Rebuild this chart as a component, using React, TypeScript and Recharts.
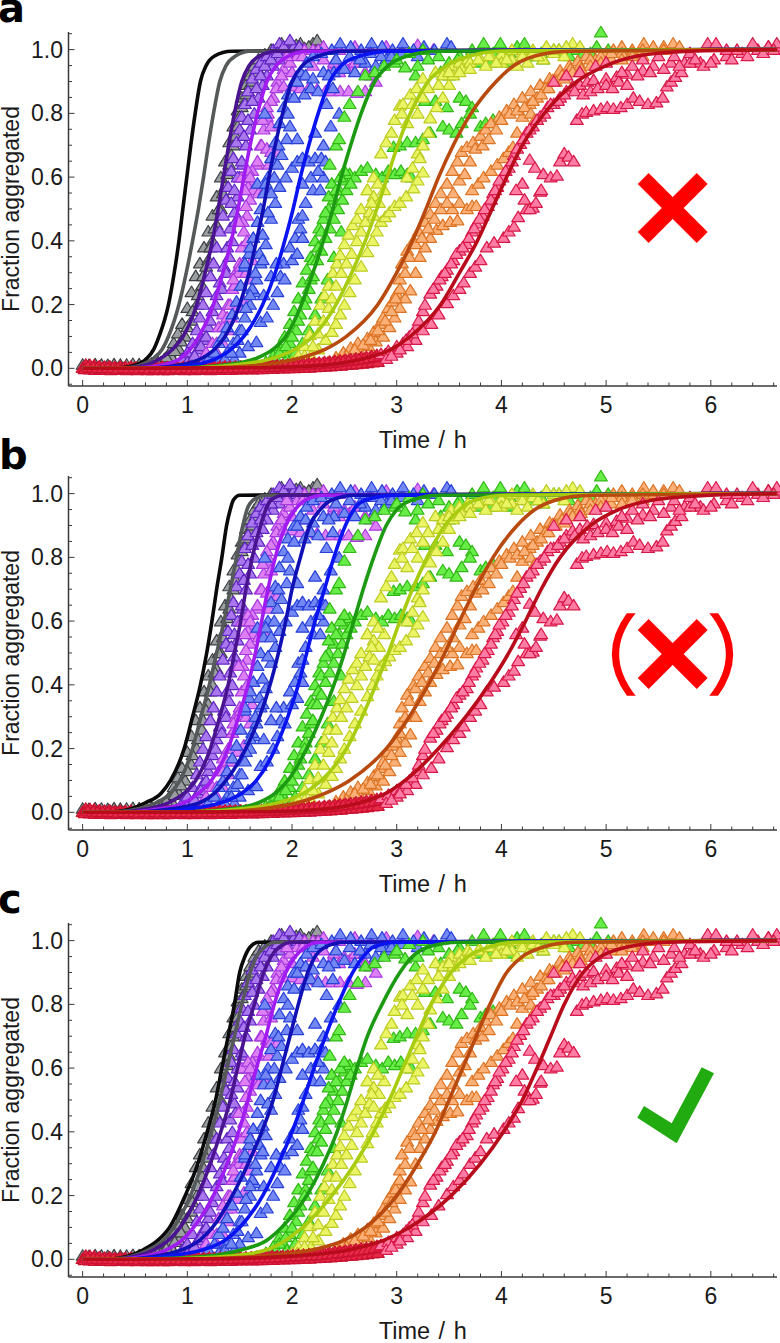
import { ComposedChart, Line, Scatter, XAxis, YAxis, Label } from "recharts";

type Pt = [number, number];

// measured runs, [time in h, fraction]
const grayA: Pt[] = [[0,.012],[.06,.011],[.12,.013],[.18,.012],[.24,.011],[.3,.013],[.36,.012],[.42,.012],[.48,.014],[.54,.013],[.6,.015],[.66,.016],[.72,.02],[.78,.03],[.83,.05],[.87,.08],[.91,.11],[.95,.14],[1,.19],[1.04,.24],[1.08,.29],[1.12,.33],[1.16,.38],[1.2,.43],[1.24,.48],[1.28,.54],[1.32,.6],[1.36,.65],[1.4,.71],[1.44,.76],[1.48,.81],[1.52,.85],[1.56,.89],[1.6,.92],[1.64,.95],[1.68,.97],[1.74,.985],[1.8,1],[1.88,1.01],[1.96,1],[2.04,1.015],[2.12,1.005],[2.2,1.02],[2.26,1.01]];
const grayB: Pt[] = [[.85,.035],[.92,.06],[.98,.1],[1.04,.15],[1.09,.2],[1.14,.26],[1.2,.34],[1.24,.4],[1.28,.45],[1.32,.5],[1.36,.57],[1.4,.64],[1.44,.7],[1.48,.76],[1.52,.82],[1.56,.86],[1.6,.89],[1.65,.93],[1.7,.95],[1.76,.97],[1.84,.99],[1.92,1],[2,1.01]];
const grayC: Pt[] = [[.75,.02],[.8,.035],[.88,.055],[.94,.085],[1,.13],[1.05,.18],[1.1,.23],[1.15,.29],[1.18,.32],[1.22,.38],[1.26,.44],[1.3,.5],[1.34,.55],[1.38,.61],[1.42,.67],[1.46,.73],[1.5,.79],[1.54,.83],[1.58,.87],[1.62,.9],[1.67,.94],[1.72,.96],[1.78,.98],[1.9,1.02],[2,1],[2.08,1.02],[2.16,1.01],[2.24,1.03]];
const purpleA: Pt[] = [[.95,.03],[1,.05],[1.05,.08],[1.09,.12],[1.12,.16],[1.15,.2],[1.18,.24],[1.22,.29],[1.25,.33],[1.28,.38],[1.31,.43],[1.34,.48],[1.37,.53],[1.39,.57],[1.42,.62],[1.44,.66],[1.47,.71],[1.5,.75],[1.52,.79],[1.55,.83],[1.58,.87],[1.62,.91],[1.66,.94],[1.7,.96],[1.76,.98],[1.82,1],[1.88,1.02],[1.95,1],[2.02,1.01],[2.1,1]];
const purpleB: Pt[] = [[1.05,.03],[1.1,.06],[1.15,.09],[1.2,.13],[1.24,.18],[1.28,.23],[1.31,.27],[1.35,.32],[1.38,.38],[1.41,.44],[1.45,.49],[1.48,.54],[1.5,.6],[1.53,.64],[1.56,.7],[1.6,.75],[1.64,.8],[1.68,.85],[1.72,.89],[1.76,.92],[1.82,.95],[1.88,.97],[1.95,.99],[2.05,1]];
const purpleC: Pt[] = [[1,.02],[1.07,.04],[1.13,.07],[1.18,.1],[1.22,.15],[1.27,.2],[1.33,.25],[1.37,.3],[1.4,.35],[1.43,.4],[1.46,.46],[1.42,.52],[1.45,.56],[1.48,.6],[1.52,.65],[1.54,.73],[1.58,.78],[1.62,.84],[1.66,.88],[1.7,.92],[1.74,.95],[1.8,.97],[1.86,.99],[1.92,1.01],[1.98,1.03],[2.07,1.01]];
const violetA: Pt[] = [[1.12,.02],[1.18,.05],[1.24,.08],[1.3,.13],[1.34,.17],[1.39,.2],[1.43,.25],[1.46,.3],[1.5,.33],[1.52,.38],[1.54,.43],[1.57,.48],[1.6,.53],[1.62,.58],[1.66,.64],[1.7,.7],[1.73,.75],[1.77,.8],[1.82,.85],[1.86,.9],[1.92,.94],[1.98,.96],[2.05,.98],[2.12,1],[2.2,1],[2.3,1.01],[2.45,1],[2.6,1.01],[2.75,1],[2.9,1.01],[3.05,1],[3.2,1.015],[3.35,1]];
const violetB: Pt[] = [[1.2,.03],[1.28,.08],[1.34,.13],[1.38,.16],[1.41,.2],[1.45,.26],[1.49,.3],[1.53,.33],[1.57,.4],[1.53,.46],[1.56,.51],[1.58,.57],[1.63,.56],[1.68,.55],[1.74,.56],[1.76,.79],[1.8,.84],[1.85,.88],[1.92,.885],[2,.885],[2.08,.88],[2.16,.88],[2.24,.875],[2.32,.87],[2.38,.87],[2.46,.87],[2.54,.87],[2.62,.865],[2.7,.87]];
const violetC: Pt[] = [[1.62,.62],[1.67,.65],[1.71,.7],[1.76,.69],[1.8,.68],[1.86,.68],[1.78,.64],[2.36,.93],[2.45,.93],[2.55,.94],[2.65,.96],[2.75,.92]];
const violetD: Pt[] = [[1.28,.05],[1.34,.08],[1.39,.12],[1.42,.16],[1.48,.19],[1.54,.21],[1.44,.28],[1.51,.32],[1.56,.3],[1.6,.28],[1.62,.34],[1.49,.46],[1.55,.56],[1.52,.6],[1.58,.62],[1.6,.6],[1.72,.78],[1.76,.82],[1.8,.76],[1.9,.92],[2,.93],[2.1,.92],[2.2,.95],[2.3,.97],[2.4,.96],[2.5,.95],[2.6,.96],[2.7,.93],[2.8,.9],[1.95,.98],[2.1,.98],[2.25,1]];
const blueA: Pt[] = [[1.2,.03],[1.26,.05],[1.3,.08],[1.34,.1],[1.38,.13],[1.43,.17],[1.47,.21],[1.51,.26],[1.55,.32],[1.59,.36],[1.63,.41],[1.67,.46],[1.7,.5],[1.73,.55],[1.77,.6],[1.8,.66],[1.84,.71],[1.88,.77],[1.92,.82],[1.96,.86],[2.02,.9],[2.08,.93],[2.14,.96],[2.2,.98],[2.28,.99],[2.38,1],[2.46,1.02],[2.56,1.01],[2.66,1],[2.76,1.02],[2.86,1.01],[2.96,1],[3.06,1.02],[3.16,1],[3.26,1.01],[3.36,1],[3.48,1.02],[3.52,1.01]];
const blueB: Pt[] = [[1.3,.02],[1.38,.05],[1.44,.08],[1.5,.12],[1.55,.16],[1.6,.2],[1.64,.24],[1.66,.28],[1.7,.33],[1.75,.39],[1.8,.47],[1.84,.52],[1.88,.57],[1.94,.6],[2,.63],[2.05,.65],[2.1,.66],[2.16,.65],[2.22,.66],[2.28,.66],[2.32,.65],[2.2,.56],[2.27,.56],[2.3,.6]];
const blueC: Pt[] = [[1.45,.03],[1.5,.05],[1.58,.07],[1.66,.083],[1.7,.146],[1.76,.16],[1.82,.2],[1.86,.24],[1.89,.29],[1.92,.33],[1.98,.38],[2.03,.41],[2.08,.44],[2.06,.47],[2.1,.48],[1.74,.8],[1.87,.7],[1.96,.8],[2.02,.85],[2.22,.74],[2.3,.7],[2.37,.76],[2.39,.88],[2.45,.8],[2.33,.83]];
const blueD: Pt[] = [[1.55,.33],[1.6,.38],[1.67,.58],[1.75,.58],[1.62,.25],[1.73,.23],[2.05,.9],[2.13,.92],[2.2,.91],[2.3,.93],[2.4,.93],[2.5,.94],[2.6,.93],[2.7,.96],[2.8,.95],[2.9,.97]];
const blueE: Pt[] = [[1.36,.03],[1.42,.05],[1.48,.09],[1.52,.12],[1.56,.19],[1.6,.23],[1.65,.3],[1.69,.36],[1.72,.42],[1.77,.49],[1.8,.55],[1.83,.6],[1.86,.64],[1.9,.67],[1.95,.72],[1.98,.76],[1.72,.34],[1.8,.29],[1.85,.33],[1.93,.28],[2,.34],[2.05,.36],[2.1,.41],[2.13,.52],[2.18,.6],[2.25,.62],[2.1,.58],[2.05,.72],[2.12,.86],[2.18,.88],[2.25,.87],[2.35,.92],[2.42,.97],[2.55,.98],[2.65,.97],[2.75,.99],[2.85,.98],[2.95,.98],[3.05,.99],[3.2,.98]];
const greenA: Pt[] = [[1.75,.02],[1.82,.04],[1.88,.07],[1.93,.1],[1.98,.14],[2.02,.18],[2.06,.22],[2.1,.27],[2.14,.31],[2.18,.35],[2.22,.4],[2.26,.44],[2.3,.47],[2.35,.5],[2.4,.53],[2.45,.56],[2.5,.59],[2.55,.61],[2.6,.6],[2.66,.62],[2.72,.63],[2.8,.61],[2.86,.6],[2.92,.62],[2.98,.61],[3.04,.62],[3.1,.61],[3.14,.6]];
const greenB: Pt[] = [[1.85,.03],[1.92,.05],[1.98,.08],[2.04,.12],[2.08,.17],[2.13,.22],[2.18,.28],[2.2,.34],[2.25,.38],[2.28,.43],[2.32,.49],[2.35,.54],[2.38,.58],[2.36,.64],[2.42,.7],[2.45,.72],[2.5,.79],[2.55,.83],[2.63,.87],[2.7,.92],[2.79,.93],[2.88,.95],[2.98,.96],[3.08,.945],[3.18,.92],[3.27,.84],[3.37,.84],[3.48,.82],[3.6,.85],[3.66,.84],[3.72,.82]];
const greenC: Pt[] = [[1.95,.03],[2.03,.05],[2.1,.08],[2.16,.12],[2.22,.17],[2.28,.22],[2.34,.28],[2.4,.35],[2.47,.43],[2.97,.695],[3.03,.7],[3.1,.71],[3.18,.71],[3.25,.72],[3.32,.74],[3.44,.76],[3.5,.75],[3.57,.74],[3.62,.77],[3.7,.8],[3.8,.76],[3.85,.77],[3.92,.78]];
const greenD: Pt[] = [[3,.97],[3.12,.99],[3.25,1],[3.4,.98],[3.5,.96],[3.6,.98],[3.72,1],[3.83,1.02],[3.92,.99],[3.99,1.02],[4.08,.99],[4.15,1.01],[4.22,1.02],[4.32,.98],[4.4,.97],[4.5,1],[4.6,.99],[4.7,1],[4.85,.99],[4.91,1.01],[4.95,1.055],[5.02,1]];
const greenE: Pt[] = [[1.8,.02],[1.88,.05],[1.94,.07],[2,.1],[2.06,.15],[2.12,.2],[2.16,.25],[2.2,.29],[2.24,.34],[2.28,.37],[2.32,.41],[2.36,.44],[2.4,.47],[2.44,.5],[2.48,.53],[2.52,.56],[2.56,.58],[2.42,.56],[2.46,.6],[2.5,.62],[3.2,.95],[3.3,.97],[3.42,.93],[3.5,.92],[3.58,.97],[3.7,.96],[3.78,.96],[3.9,.96],[4,.97],[4.1,.96],[4.25,.98],[4.38,.99],[4.55,1],[4.65,.98],[4.78,.99],[5,.98]];
const yellowA: Pt[] = [[2,.02],[2.06,.04],[2.12,.07],[2.17,.105],[2.22,.15],[2.27,.2],[2.31,.23],[2.35,.26],[2.39,.3],[2.43,.33],[2.46,.356],[2.5,.39],[2.54,.42],[2.58,.45],[2.62,.47],[2.66,.5],[2.72,.56],[2.78,.6],[2.85,.675],[2.9,.71],[2.95,.74],[2.98,.78],[3.03,.825],[3.06,.83],[3.13,.86],[3.19,.88],[3.25,.91],[3.37,.93],[3.44,.92],[3.52,.95],[3.6,.96],[3.68,.97],[3.8,.97],[3.9,.98],[4,.985],[4.1,1],[4.2,.99],[4.3,1],[4.43,1.01],[4.55,1],[4.68,1.02],[4.75,1.01]];
const yellowB: Pt[] = [[2.1,.02],[2.18,.04],[2.25,.06],[2.32,.09],[2.38,.115],[2.42,.14],[2.46,.17],[2.5,.2],[2.55,.24],[2.6,.28],[2.66,.32],[2.72,.365],[2.77,.4],[2.81,.43],[2.85,.46],[2.89,.475],[2.93,.49],[2.98,.51],[3.03,.52],[3.09,.54],[3.16,.565],[3.2,.59],[3.25,.615],[3.2,.675],[3.25,.7],[3.3,.74],[3.32,.785],[3.38,.82],[3.44,.85],[3.5,.89],[3.54,.92],[3.62,.94],[3.7,.96],[3.78,.97],[3.88,.98],[4,.96],[4.1,.97],[4.2,.98],[4.3,.99],[4.4,.97],[4.5,.99],[4.6,.98]];
const yellowC: Pt[] = [[2.72,.56],[2.78,.54],[2.83,.52],[2.88,.56],[2.82,.58],[2.76,.52]];
const yellowD: Pt[] = [[2.05,.02],[2.12,.04],[2.2,.07],[2.25,.11],[2.3,.15],[2.35,.19],[2.38,.22],[2.42,.26],[2.47,.3],[2.52,.33],[2.57,.36],[2.62,.4],[2.66,.43],[2.7,.46],[2.74,.49],[2.78,.48],[3.05,.8],[3.1,.77],[3.15,.83],[3.2,.8],[3.25,.85],[3.3,.88],[3.4,.89],[3.5,.93],[3.6,.93],[3.7,.94],[3.85,.95],[3.95,.96],[4.05,.97],[4.15,.95],[4.25,.96],[4.35,.98],[4.5,1],[4.62,1.01],[3.1,.6],[3.15,.63],[3.22,.66]];
const orangeA: Pt[] = [[2.35,.02],[2.42,.035],[2.49,.05],[2.56,.065],[2.63,.08],[2.72,.095],[2.78,.115],[2.84,.14],[2.87,.16],[2.92,.19],[2.96,.21],[3,.235],[3.03,.28],[3.05,.33],[3.1,.37],[3.16,.4],[3.21,.43],[3.27,.46],[3.32,.485],[3.37,.52],[3.42,.55],[3.48,.58],[3.53,.62],[3.58,.65],[3.62,.68],[3.67,.695],[3.73,.71],[3.8,.73],[3.85,.75],[3.9,.77],[3.98,.79],[4.05,.81],[4.12,.83],[4.2,.85],[4.28,.87],[4.37,.89],[4.46,.91],[4.56,.935],[4.65,.95],[4.73,.965],[4.81,.98],[4.9,.97],[5,.99],[5.07,1],[5.15,1.01],[5.25,1],[5.36,1.02],[5.45,1],[5.55,1.01],[5.64,1.02],[5.7,1.01]];
const orangeB: Pt[] = [[2.55,.02],[2.65,.05],[2.73,.07],[2.8,.085],[2.87,.1],[2.93,.13],[2.98,.16],[3.03,.19],[3.08,.22],[3.13,.245],[3.18,.3],[3.22,.35],[3.27,.38],[3.32,.41],[3.38,.435],[3.44,.45],[3.51,.46],[3.58,.465],[3.53,.5],[3.6,.52],[3.67,.5],[3.72,.51],[3.76,.51],[3.72,.56],[3.78,.58],[3.83,.6],[3.9,.62],[3.96,.64],[4.02,.66],[4.07,.68],[4.11,.695],[4.15,.74],[4.2,.79],[4.27,.83],[4.34,.85],[4.42,.88],[4.49,.905],[4.58,.92],[4.66,.94],[4.75,.95],[4.85,.97],[4.95,.98],[5.05,.97],[5.15,.99],[5.25,.99],[5.35,1],[5.45,1.01],[5.55,1]];
const orangeC: Pt[] = [[2.45,.025],[2.52,.04],[2.6,.06],[2.68,.075],[2.75,.09],[2.82,.12],[2.89,.15],[2.95,.18],[2.99,.22],[3.03,.25],[3.08,.3],[3.12,.35],[3.18,.39],[3.24,.41],[3.3,.44],[3.36,.47],[3.42,.5],[3.48,.52],[3.54,.55],[3.6,.59],[3.65,.61],[3.7,.65],[3.75,.69],[3.82,.7],[3.88,.72],[3.95,.75],[4,.78],[4.08,.8],[4.15,.81],[4.22,.82],[4.28,.8],[4.32,.78],[4.3,.84],[4.38,.86],[4.45,.88],[4.52,.9],[4.6,.91],[4.68,.93],[4.76,.94],[4.85,.95],[4.95,.96],[5.05,.99],[5.15,.97],[5.25,.98],[5.35,.98]];
const redBaseA: Pt[] = [[0,.002],[.03,.012],[.07,.011],[.11,.009],[.16,.007],[.21,.005],[.26,.006],[.31,.004],[.36,.005],[.41,.004],[.46,.005],[.51,.003],[.56,.005],[.61,.004],[.66,.004],[.71,.003],[.76,.005],[.81,.004],[.86,.004],[.91,.003],[.96,.004],[1.01,.005],[1.06,.003],[1.11,.004],[1.16,.004],[1.21,.005],[1.26,.004],[1.31,.005],[1.36,.006],[1.41,.005],[1.46,.006],[1.51,.006],[1.56,.007],[1.61,.007],[1.66,.008],[1.71,.008],[1.76,.009],[1.81,.01],[1.86,.01],[1.91,.011],[1.96,.012],[2.01,.013],[2.06,.014],[2.11,.015],[2.16,.016],[2.21,.017],[2.26,.018],[2.31,.02],[2.36,.021],[2.41,.023],[2.46,.025],[2.51,.027],[2.56,.029],[2.61,.031],[2.66,.034],[2.71,.036],[2.76,.039],[2.81,.042]];
const redBaseB: Pt[] = [[.02,-.002],[.07,-.003],[.12,-.004],[.17,-.003],[.22,-.004],[.27,-.005],[.32,-.004],[.37,-.004],[.42,-.005],[.47,-.004],[.52,-.005],[.57,-.004],[.62,-.005],[.67,-.005],[.72,-.004],[.77,-.005],[.82,-.005],[.87,-.004],[.92,-.004],[.97,-.005],[1.02,-.004],[1.07,-.005],[1.12,-.004],[1.17,-.004],[1.22,-.005],[1.27,-.004],[1.32,-.004],[1.37,-.003],[1.42,-.004],[1.47,-.003],[1.52,-.003],[1.57,-.002],[1.62,-.003],[1.67,-.002],[1.72,-.002],[1.77,-.001],[1.82,-.001],[1.87,0],[1.92,0],[1.97,.001],[2.02,.001],[2.07,.002],[2.12,.003],[2.17,.003],[2.22,.004],[2.27,.005],[2.32,.006],[2.37,.007],[2.42,.008],[2.47,.009],[2.52,.011],[2.57,.012],[2.62,.014],[2.67,.015],[2.72,.017],[2.77,.019],[2.82,.021]];
const redBaseC: Pt[] = [[.05,.004],[.1,.003],[.14,.002],[.19,.001],[.24,.002],[.29,.001],[.34,0],[.39,.001],[.44,0],[.49,.001],[.54,0],[.59,.001],[.64,0],[.69,.001],[.74,0],[.79,.001],[.84,0],[.89,.001],[.94,0],[.99,.001],[1.04,0],[1.09,.001],[1.14,0],[1.19,.001],[1.24,.001],[1.29,.001],[1.34,.002],[1.39,.002],[1.44,.002],[1.49,.003],[1.54,.003],[1.59,.003],[1.64,.004],[1.69,.005],[1.74,.005],[1.79,.006],[1.84,.006],[1.89,.007],[1.94,.008],[1.99,.009],[2.04,.01],[2.09,.011],[2.14,.012],[2.19,.013],[2.24,.014],[2.29,.015],[2.34,.017],[2.39,.018],[2.44,.02],[2.49,.022],[2.54,.024],[2.59,.026],[2.64,.028],[2.69,.03],[2.74,.033],[2.79,.036],[2.84,.04],[2.89,.044]];
const pinkA: Pt[] = [[2.85,.045],[2.92,.055],[3,.07],[3.06,.08],[3.12,.1],[3.19,.13],[3.25,.18],[3.32,.235],[3.38,.26],[3.43,.29],[3.48,.31],[3.54,.34],[3.6,.37],[3.67,.39],[3.72,.43],[3.76,.455],[3.82,.48],[3.87,.51],[3.92,.55],[3.96,.57],[4.01,.6],[4.07,.63],[4.12,.67],[4.18,.705],[4.24,.74],[4.3,.76],[4.37,.79],[4.44,.82],[4.5,.83],[4.56,.85],[4.62,.87],[4.68,.885],[4.75,.89],[4.82,.9],[4.88,.905],[5,.91],[5.1,.915],[5.2,.925],[5.35,.935],[5.45,.95],[5.62,.96],[5.75,.96],[5.9,.96],[6.03,.97],[6.15,.98],[6.3,.99],[6.45,1],[6.55,1.01],[6.62,1.01]];
const pinkB: Pt[] = [[2.9,.03],[3,.05],[3.1,.07],[3.18,.09],[3.25,.12],[3.33,.14],[3.4,.17],[3.48,.205],[3.54,.23],[3.6,.25],[3.64,.27],[3.7,.3],[3.75,.32],[3.8,.34],[3.86,.38],[3.93,.395],[4.02,.41],[4.07,.43],[4.12,.445],[4.16,.475],[4.24,.5],[4.3,.505],[4.37,.555],[4.4,.61],[4.47,.6],[4.53,.605],[4.56,.65],[4.6,.675],[4.64,.665],[4.69,.65]];
const pinkC: Pt[] = [[4.72,.78],[4.77,.8],[4.81,.805],[4.88,.81],[4.95,.815],[5.01,.82],[5.07,.815],[5.14,.82],[5.2,.83],[5.26,.85],[5.32,.84],[5.4,.83],[5.48,.835],[5.54,.85],[5.58,.885],[5.62,.9],[5.66,.915],[5.72,.93],[5.8,.96],[5.93,.95]];
const pinkD: Pt[] = [[4.2,.58],[4.14,.56],[4.22,.53],[4.27,.5],[4.33,.52],[4.27,.655],[4.32,.63],[4.38,.56],[4.5,.9],[4.62,.92],[4.75,.93],[4.9,.95],[5,.96],[5.15,.93],[5.25,.95],[5.35,.97],[5.5,.98],[5.65,.98],[5.8,.99],[5.97,1.02],[6.05,1.02],[6.15,1],[6.25,1],[6.4,1.02],[6.55,1.01],[6.63,1.02]];
const pinkE: Pt[] = [[2.95,.04],[3.03,.06],[3.09,.09],[3.15,.11],[3.21,.15],[3.27,.2],[3.35,.25],[3.41,.28],[3.46,.3],[3.52,.33],[3.57,.36],[3.63,.38],[3.69,.41],[3.74,.44],[3.79,.47],[3.84,.5],[3.9,.53],[3.94,.56],[3.98,.59],[4.04,.62],[4.1,.65],[4.15,.69],[4.21,.72],[4.27,.75],[4.34,.78],[4.41,.8],[4.47,.83],[4.54,.84],[4.6,.86],[4.7,.87],[4.78,.86],[4.85,.87],[4.92,.88],[5,.89],[5.06,.88],[5.12,.9],[5.2,.89],[5.3,.92],[5.42,.93],[5.55,.94],[5.7,.95],[5.85,.97],[6,.96],[6.2,.97],[6.35,.98],[6.5,.99],[6.6,1]];

// fitted curves: the time each curve reaches these fractions
const fitLevels = [.002,.01,.03,.06,.1,.2,.3,.4,.5,.6,.7,.8,.9,.95,.98,.995];

const aFits = [
  [.35,.5,.61,.68,.73,.82,.875,.92,.957,.995,1.033,1.075,1.125,1.18,1.26,1.42],
  [.42,.55,.67,.76,.82,.92,.99,1.05,1.106,1.155,1.2,1.25,1.31,1.37,1.46,1.6],
  [.45,.6,.74,.86,.96,1.09,1.17,1.24,1.295,1.345,1.395,1.45,1.52,1.59,1.69,1.85],
  [.55,.76,.93,1.03,1.11,1.25,1.34,1.42,1.485,1.54,1.6,1.67,1.76,1.85,1.97,2.15],
  [.7,.92,1.13,1.26,1.36,1.5,1.59,1.66,1.725,1.78,1.84,1.91,2,2.1,2.25,2.5],
  [.8,1.05,1.27,1.42,1.54,1.72,1.84,1.93,2.01,2.08,2.16,2.25,2.36,2.47,2.65,2.95],
  [1,1.35,1.65,1.82,1.94,2.09,2.2,2.3,2.39,2.47,2.56,2.66,2.79,2.92,3.1,3.4],
  [1.1,1.45,1.8,2.03,2.2,2.42,2.57,2.7,2.81,2.91,3.01,3.13,3.3,3.48,3.7,4],
  [1.2,1.7,2.05,2.32,2.52,2.82,3,3.15,3.28,3.4,3.54,3.71,3.95,4.12,4.32,4.65],
  [1.7,2.3,2.68,2.95,3.13,3.42,3.6,3.77,3.91,4.05,4.2,4.41,4.72,5,5.3,5.8],
];
const bFits = [
  [.3,.45,.6,.75,.84,.97,1.05,1.125,1.185,1.235,1.28,1.33,1.375,1.41,1.44,1.5],
  [.35,.52,.7,.84,.93,1.05,1.13,1.21,1.28,1.35,1.41,1.47,1.53,1.57,1.63,1.75],
  [.4,.6,.82,.97,1.08,1.22,1.31,1.39,1.45,1.51,1.56,1.62,1.7,1.75,1.8,1.92],
  [.5,.72,.97,1.11,1.23,1.39,1.49,1.58,1.65,1.71,1.77,1.84,1.94,2.03,2.13,2.3],
  [.6,.83,1.12,1.26,1.37,1.56,1.69,1.79,1.87,1.94,2,2.08,2.17,2.27,2.38,2.6],
  [.75,.98,1.32,1.52,1.66,1.84,1.96,2.06,2.14,2.22,2.31,2.4,2.51,2.59,2.7,3],
  [1.05,1.4,1.68,1.84,1.96,2.14,2.28,2.4,2.5,2.59,2.68,2.78,2.9,3,3.15,3.4],
  [1.1,1.5,1.87,2.11,2.28,2.52,2.67,2.8,2.92,3.03,3.15,3.29,3.46,3.6,3.75,4.05],
  [1.3,1.7,2.05,2.32,2.55,2.9,3.12,3.3,3.46,3.6,3.75,3.92,4.15,4.32,4.52,4.85],
  [1.8,2.3,2.65,2.9,3.08,3.4,3.66,3.88,4.07,4.23,4.38,4.56,4.85,5.12,5.45,6],
];
const cFits = [
  [.3,.43,.58,.72,.83,.98,1.1,1.19,1.27,1.33,1.39,1.45,1.5,1.55,1.6,1.68],
  [.32,.47,.63,.77,.87,1.03,1.14,1.23,1.31,1.38,1.45,1.52,1.6,1.66,1.74,1.85],
  [.35,.5,.68,.82,.93,1.1,1.22,1.32,1.41,1.48,1.55,1.64,1.73,1.8,1.88,2],
  [.4,.6,.8,.95,1.06,1.25,1.38,1.49,1.58,1.66,1.75,1.83,1.94,2.03,2.13,2.25],
  [.5,.7,.95,1.12,1.24,1.43,1.58,1.71,1.82,1.9,1.98,2.06,2.15,2.22,2.32,2.5],
  [.55,.8,1.15,1.36,1.5,1.72,1.87,2,2.11,2.21,2.32,2.44,2.58,2.68,2.78,3],
  [.7,1.2,1.52,1.76,1.9,2.14,2.3,2.43,2.53,2.62,2.72,2.86,3.03,3.15,3.3,3.6],
  [.9,1.4,1.76,1.94,2.1,2.38,2.6,2.78,2.93,3.06,3.19,3.33,3.52,3.68,3.88,4.15],
  [1.1,1.7,2.2,2.5,2.7,3,3.2,3.37,3.5,3.63,3.76,3.89,4.05,4.2,4.4,4.7],
  [1.3,2,2.55,2.88,3.12,3.52,3.8,4.02,4.2,4.34,4.47,4.6,4.78,4.95,5.2,5.6],
];

const xTicks = [0,.2,.4,.6,.8,1,1.2,1.4,1.6,1.8,2,2.2,2.4,2.6,2.8,3,3.2,3.4,3.6,3.8,4,4.2,4.4,4.6,4.8,5,5.2,5.4,5.6,5.8,6,6.2,6.4,6.6];
const yTicks = [-.05,0,.05,.1,.15,.2,.25,.3,.35,.4,.45,.5,.55,.6,.65,.7,.75,.8,.85,.9,.95,1,1.05];
const yLabels = [0,.2,.4,.6,.8,1];

const fitColors = ["#0a0a0a","#55595a","#4a1490","#a01cf0","#1010b4","#0a14f0","#1c9a12","#a8cc10","#b84a10","#b80c1c"];

const runStyles = [
  { runs: [grayA, grayB, grayC], fill: "#9a9ea0", stroke: "#3c4044" },
  { runs: [purpleA, purpleB, purpleC], fill: "#a878ec", stroke: "#6224c4" },
  { runs: [violetA, violetB, violetC, violetD], fill: "#dc80f4", stroke: "#a838e0" },
  { runs: [blueA, blueB, blueC, blueD, blueE], fill: "#7488f4", stroke: "#2840d8" },
  { runs: [greenA, greenB, greenC, greenD, greenE], fill: "#68ec48", stroke: "#30b814" },
  { runs: [yellowA, yellowB, yellowC, yellowD], fill: "#eaf464", stroke: "#bccc20" },
  { runs: [orangeA, orangeB, orangeC], fill: "#fbb078", stroke: "#dc7424" },
  { runs: [redBaseA, redBaseB, redBaseC], fill: "#e62a48", stroke: "#cc1030" },
  { runs: [pinkA, pinkB, pinkC, pinkD, pinkE], fill: "#ff7ca4", stroke: "#d81848" },
];

const font = "'Liberation Sans', Arial, sans-serif";
const ink = "#3a3a3a";
const axisLine = { stroke: ink, strokeWidth: 1.5 };

function toRows(run: Pt[]) {
  return run.map(([t, y]) => ({ t, y }));
}

function fitRows(times: number[]) {
  return [{ t: 0, y: 0 }, ...times.map((t, i) => ({ t, y: fitLevels[i] })), { t: 6.63, y: 1 }];
}

function triangle(fill: string, stroke: string) {
  return (p: any) => (
    <path
      d={`M${p.cx - 6.4} ${p.cy + 4.7}L${p.cx} ${p.cy - 5.8}L${p.cx + 6.4} ${p.cy + 4.7}Z`}
      fill={fill}
      stroke={stroke}
      strokeWidth={1.2}
      strokeLinejoin="round"
    />
  );
}

function xTick(side: "bottom" | "top") {
  return (p: any) => {
    const v = p.payload.value;
    const major = Number.isInteger(v);
    const len = (major ? 6 : 3.5) * (side === "bottom" ? -1 : 1);
    return (
      <g>
        <line x1={p.x} x2={p.x} y1={p.y} y2={p.y + len} stroke={ink} strokeWidth={1} />
        {side === "bottom" && major && (
          <text x={p.x} y={p.y + 26.5} textAnchor="middle" fontFamily={font} fontSize={23} fill="#1a1a1a">
            {v}
          </text>
        )}
      </g>
    );
  };
}

function yTick(side: "left" | "right") {
  return (p: any) => {
    const v = p.payload.value;
    const major = yLabels.includes(v);
    const len = (major ? 6 : 3.5) * (side === "left" ? 1 : -1);
    return (
      <g>
        <line x1={p.x} x2={p.x + len} y1={p.y} y2={p.y} stroke={ink} strokeWidth={1} />
        {side === "left" && major && (
          <text x={p.x - 5.5} y={p.y + 8} textAnchor="end" fontFamily={font} fontSize={23} fill="#1a1a1a">
            {v.toFixed(1)}
          </text>
        )}
      </g>
    );
  };
}

function Panel({ fits, top }: { fits: number[][]; top: number }) {
  return (
    <div style={{ position: "absolute", left: 0, top }}>
      <ComposedChart width={780} height={455} margin={{ top: 32, right: 3, bottom: 0, left: 0 }}>
        <XAxis
          dataKey="t"
          type="number"
          domain={[-0.135, 6.632]}
          ticks={xTicks}
          interval={0}
          height={69}
          tickSize={0}
          tickMargin={0}
          tickLine={false}
          axisLine={axisLine}
          tick={xTick("bottom")}
        >
          <Label value="Time / h" position="insideBottom" offset={7} style={{ fontFamily: font, fontSize: 23.5, wordSpacing: 2, fill: "#1a1a1a" }} />
        </XAxis>
        <XAxis
          xAxisId="top"
          orientation="top"
          dataKey="t"
          type="number"
          domain={[-0.135, 6.632]}
          ticks={xTicks}
          interval={0}
          height={0}
          tickSize={0}
          tickMargin={0}
          tickLine={false}
          axisLine={axisLine}
          tick={xTick("top")}
        />
        <YAxis
          type="number"
          domain={[-0.0555, 1.0553]}
          ticks={yTicks}
          interval={0}
          width={68.5}
          tickSize={0}
          tickMargin={0}
          tickLine={false}
          axisLine={axisLine}
          tick={yTick("left")}
        >
          <Label value="Fraction aggregated" angle={-90} position="insideLeft" offset={11} style={{ fontFamily: font, fontSize: 23, fill: "#1a1a1a", textAnchor: "middle" }} />
        </YAxis>
        <YAxis
          yAxisId="right"
          orientation="right"
          type="number"
          domain={[-0.0555, 1.0553]}
          ticks={yTicks}
          interval={0}
          width={0}
          tickSize={0}
          tickMargin={0}
          tickLine={false}
          axisLine={axisLine}
          tick={yTick("right")}
        />
        {runStyles.flatMap((s, i) =>
          s.runs.map((run, j) => (
            <Scatter
              key={`run-${i}-${j}`}
              data={toRows(run)}
              dataKey="y"
              isAnimationActive={false}
              shape={triangle(s.fill, s.stroke)}
            />
          ))
        )}
        {fits.map((times, i) => (
          <Line
            key={`fit-${i}`}
            data={fitRows(times)}
            dataKey="y"
            type="monotone"
            stroke={fitColors[i]}
            strokeWidth={3.6}
            dot={false}
            isAnimationActive={false}
            zIndex={700}
          />
        ))}
      </ComposedChart>
    </div>
  );
}

function Cross({ cx, cy }: { cx: number; cy: number }) {
  return (
    <g stroke="#ff0000" strokeWidth={15.4}>
      <line x1={cx - 29.5} y1={cy - 29.5} x2={cx + 29.5} y2={cy + 29.5} />
      <line x1={cx - 29.5} y1={cy + 29.5} x2={cx + 29.5} y2={cy - 29.5} />
    </g>
  );
}

function Marks() {
  const letter = { fontFamily: "'DejaVu Sans'", fontWeight: 700, fontSize: 40, fill: "#000" };
  return (
    <svg width={780} height={1343} style={{ position: "absolute", left: 0, top: 0, pointerEvents: "none" }}>
      <text x={-2} y={22} {...letter}>a</text>
      <text x={-1} y={469} {...letter}>b</text>
      <text x={-2} y={913} {...letter}>c</text>
      <Cross cx={672.7} cy={208} />
      <Cross cx={672.7} cy={654} />
      <clipPath id="parens">
        <rect x={600} y={613.3} width={150} height={82.4} />
      </clipPath>
      <g clipPath="url(#parens)" fill="none" stroke="#ff0000" strokeWidth={7}>
        <path d="M639 604Q592 654 639 705" />
        <path d="M706 604Q753 654 706 705" />
      </g>
      <polygon points="644,1106 637.3,1117.7 676.7,1143.3 714,1073.3 701.7,1067.3 671.7,1123.3" fill="#22aa11" />
    </svg>
  );
}

export default function App() {
  return (
    <div style={{ position: "absolute", left: 0, top: 0, width: 780, height: 1343, overflow: "hidden", background: "#fff" }}>
      <Panel fits={aFits} top={0} />
      <Panel fits={bFits} top={444.3} />
      <Panel fits={cFits} top={891.4} />
      <Marks />
    </div>
  );
}
